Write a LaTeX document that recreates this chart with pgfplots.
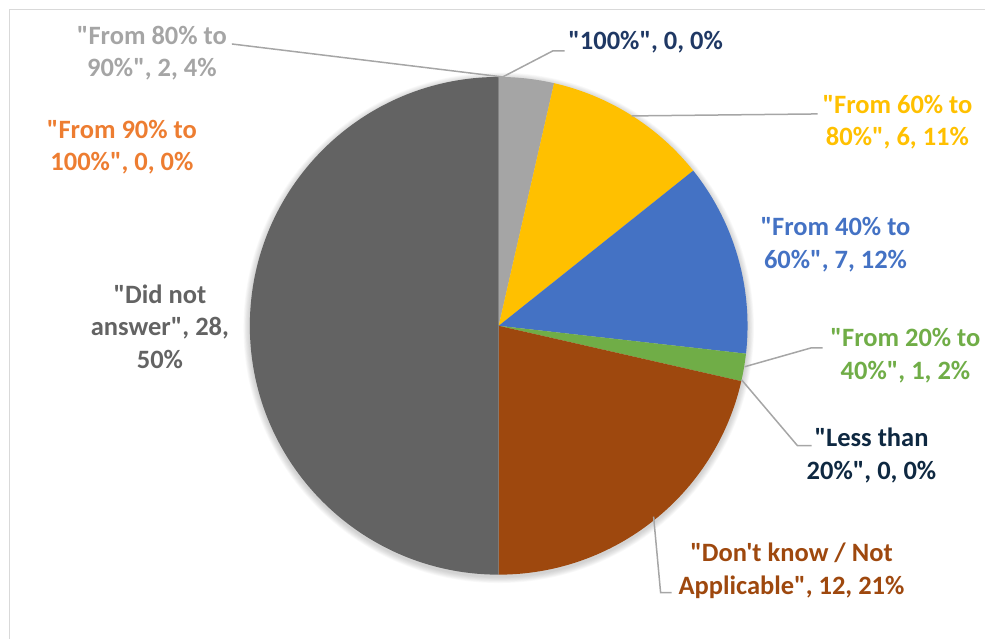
\documentclass[border=0pt]{standalone}
\usepackage{fontspec}
\setmainfont{Carlito}[Ligatures=TeXOff]
\usepackage{pgfplots}
\usepackage{pgfplotstable}
\pgfplotsset{compat=1.18}

% straight quotes, as in the chart
\newcommand\q{\symbol{34}}
\newcommand\ap{\symbol{39}}

% slice colours, in data order
\definecolor{pie0}{HTML}{1F3864}
\definecolor{pie1}{HTML}{A5A5A5}
\definecolor{pie2}{HTML}{FFC000}
\definecolor{pie3}{HTML}{4472C4}
\definecolor{pie4}{HTML}{70AD47}
\definecolor{pie5}{HTML}{0E2841}
\definecolor{pie6}{HTML}{9E480E}
\definecolor{pie7}{HTML}{636363}
\definecolor{pie8}{HTML}{ED7D31}
\definecolor{leader}{HTML}{A6A6A6}
\definecolor{frame}{HTML}{D9D9D9}

% clockwise from 12 o'clock
\pgfplotstableread{
label value
100 0
80to90 2
60to80 6
40to60 7
20to40 1
lt20 0
dontknow 12
noanswer 28
90to100 0
}\piedata
\pgfplotstablecreatecol[create col/expr accum={\pgfmathaccuma+\thisrow{value}}{0}]{cum}\piedata

\begin{document}
\begin{tikzpicture}[
  lbl/.style={font=\fontsize{26.5bp}{32.5bp}\selectfont\bfseries, align=center, inner sep=0pt},
  ]
\begin{axis}[
  width=986bp, height=639bp, scale only axis,
  xmin=0, xmax=986, ymin=0, ymax=639, y dir=reverse,
  axis lines=none, clip=false,
  ]
  \path (axis cs:0,0) rectangle (axis cs:986,639);
  \draw[frame, line width=1.2bp] (axis cs:9.5,639) -- (axis cs:9.5,9.5) -- (axis cs:986,9.5);

  \pgfplotsextra{
    \pgfplotstablegetelem{8}{cum}\of\piedata \let\total\pgfplotsretval
    % soft shadow
    \foreach \k in {1,...,8} {
      \fill[black, opacity=0.025] (axis cs:499,328) circle[radius=249bp+\k*0.8bp];
    }
    \foreach \i in {0,...,8} {
      \pgfplotstablegetelem{\i}{value}\of\piedata \let\v\pgfplotsretval
      \pgfplotstablegetelem{\i}{cum}\of\piedata \let\c\pgfplotsretval
      \pgfmathsetmacro\aS{90-(\c-\v)/\total*360}
      \pgfmathsetmacro\aE{90-\c/\total*360}
      \pgfmathparse{\v>0}
      \ifnum\pgfmathresult=1
        \fill[pie\i] (axis cs:499,326) -- ++(\aS:249bp) arc[start angle=\aS, end angle=\aE, radius=249bp] -- cycle;
      \fi
    }
  }

  % leader lines
  \draw[leader, line width=1.5bp] (axis cs:232,44) -- (axis cs:503,77);
  \draw[leader, line width=1.5bp] (axis cs:565,51) -- (axis cs:553,51) -- (axis cs:503,77);
  \draw[leader, line width=1.5bp] (axis cs:632,116) -- (axis cs:818,114);
  \draw[leader, line width=1.5bp] (axis cs:745,367) -- (axis cs:812,348) -- (axis cs:823,348);
  \draw[leader, line width=1.5bp] (axis cs:742,380) -- (axis cs:798,446) -- (axis cs:812,446);
  \draw[leader, line width=1.5bp] (axis cs:654,517) -- (axis cs:661,593) -- (axis cs:672,593);

  % data labels
  \node[lbl, pie1] at (axis cs:152,53) {\q From 80\% to\\90\%\q, 2, 4\%};
  \node[lbl, pie8] at (axis cs:122,147) {\q From 90\% to\\100\%\q, 0, 0\%};
  \node[lbl, pie0] at (axis cs:646,42) {\q 100\%\q, 0, 0\%};
  \node[lbl, pie2] at (axis cs:898,122) {\q From 60\% to\\80\%\q, 6, 11\%};
  \node[lbl, pie3] at (axis cs:836,245) {\q From 40\% to\\60\%\q, 7, 12\%};
  \node[lbl, pie4] at (axis cs:906,356) {\q From 20\% to\\40\%\q, 1, 2\%};
  \node[lbl, pie5] at (axis cs:872,456) {\q Less than\\20\%\q, 0, 0\%};
  \node[lbl, pie6] at (axis cs:792,571) {\q Don\ap t know / Not\\Applicable\q, 12, 21\%};
  \node[lbl, pie7] at (axis cs:160,327) {\q Did not\\answer\q, 28,\\50\%};
\end{axis}
\end{tikzpicture}
\end{document}
